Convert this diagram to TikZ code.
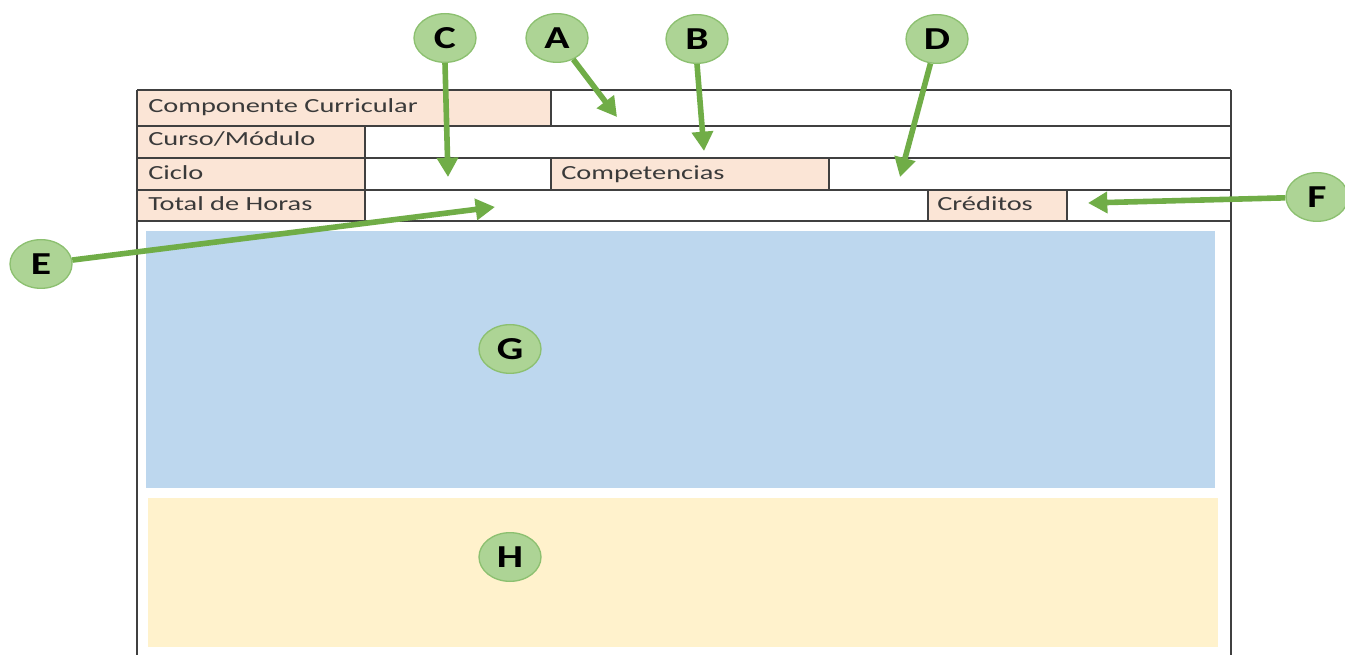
\documentclass[tikz,border=0pt]{standalone}
\usepackage{fontspec}
\setmainfont{Carlito}
\usetikzlibrary{arrows.meta,shapes.geometric}
\definecolor{peach}{HTML}{FBE5D6}
\definecolor{gline}{HTML}{404040}
\definecolor{txt}{HTML}{3A3A3A}
\definecolor{arrowg}{HTML}{70AD47}
\definecolor{circfill}{HTML}{ADD495}
\definecolor{circdraw}{HTML}{8CC070}
\definecolor{bluebox}{HTML}{BDD7EE}
\definecolor{yellowbox}{HTML}{FFF2CC}
\newcommand{\wtext}[1]{\scalebox{1.42}[1]{#1}}
\newcommand{\btext}[1]{\scalebox{1.3}[1]{#1}}
\begin{document}
\begin{tikzpicture}[x=0.75pt,y=-0.75pt,
  gridline/.style={draw=gline, line width=1.1pt},
  hdr/.style={fill=peach},
  lbl/.style={anchor=base west, inner sep=0pt, text=txt, font=\fontsize{15}{18}\selectfont},
  badge/.style={ellipse, fill=circfill, draw=circdraw, line width=1pt,
    minimum width=46.5pt, minimum height=36.5pt, inner sep=0pt,
    font=\fontsize{24}{26}\selectfont\bfseries},
  pointer/.style={draw=arrowg, line width=4.2pt,
    -{Triangle[length=14.5pt,width=15.5pt]}}
]
\useasboundingbox (0,0) rectangle (1345,655);
\fill[white] (0,0) rectangle (1345,655);

% colored content areas
\fill[bluebox] (146,231) rectangle (1215,488);
\fill[yellowbox] (148,498) rectangle (1218,647);

% header cells
\fill[hdr] (137,90) rectangle (551,126);
\fill[hdr] (137,126) rectangle (365,221);
\fill[hdr] (551,158) rectangle (829,190);
\fill[hdr] (928,190) rectangle (1067,221);

% grid
\draw[gridline] (137,90) -- (1231,90);
\draw[gridline] (137,126) -- (1231,126);
\draw[gridline] (137,158) -- (1231,158);
\draw[gridline] (137,190) -- (1231,190);
\draw[gridline] (137,221) -- (1231,221);
\draw[gridline] (137,90) -- (137,655);
\draw[gridline] (1231,90) -- (1231,655);
\draw[gridline] (551,90) -- (551,126);
\draw[gridline] (365,126) -- (365,221);
\draw[gridline] (551,158) -- (551,190);
\draw[gridline] (829,158) -- (829,190);
\draw[gridline] (928,190) -- (928,221);
\draw[gridline] (1067,190) -- (1067,221);

% labels
\node[lbl] (comp) at (148,113) {\wtext{Componente Curricular}};
\node[lbl] (curso) at (148,146) {\wtext{Curso/Módulo}};
\node[lbl] (ciclo) at (148,180) {\wtext{Ciclo}};
\node[lbl] (horas) at (148,211) {\wtext{Total de Horas}};
\node[lbl] (compet) at (561,180) {\wtext{Competencias}};
\node[lbl] (cred) at (937,211) {\wtext{Créditos}};

% badges
\node[badge] (C) at (445,38) {\btext{C}};
\node[badge] (A) at (557,38) {\btext{A}};
\node[badge] (B) at (697,39) {\btext{B}};
\node[badge] (D) at (937,39) {\btext{D}};
\node[badge] (F) at (1317,197) {\btext{F}};
\node[badge] (E) at (41,264) {\btext{E}};
\node[badge] (G) at (510,349) {\btext{G}};
\node[badge] (H) at (510,557) {\btext{H}};

% arrow targets
\coordinate (tC) at (448,177);
\coordinate (tA) at (617,117);
\coordinate (tB) at (704,151);
\coordinate (tD) at (900,177);
\coordinate (tE) at (495,207);
\coordinate (tF) at (1088,203);

% pointers
\draw[pointer] (C.south) -- (tC);
\draw[pointer] (A) -- (tA);
\draw[pointer] (B.south) -- (tB);
\draw[pointer] (D) -- (tD);
\draw[pointer] (E) -- (tE);
\draw[pointer] (F) -- (tF);
\end{tikzpicture}
\end{document}
